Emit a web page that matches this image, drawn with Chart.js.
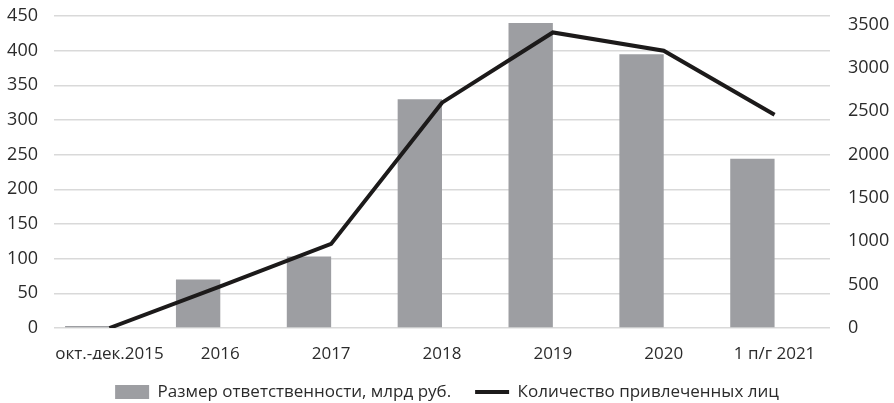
<!DOCTYPE html>
<html>
<head>
<meta charset="utf-8">
<script src="https://cdn.jsdelivr.net/npm/chart.js@4"></script>
<style>
  html, body { margin: 0; padding: 0; background: #fff; }
  #wrap { width: 894px; height: 403px; }
</style>
</head>
<body>
<div id="wrap"><canvas id="chart" width="894" height="403"></canvas></div>
<script>
// ---------- Data ----------
const categories = ["окт.-дек.2015", "2016", "2017", "2018", "2019", "2020", "1 п/г 2021"];
const liability = [3, 70, 103, 330, 440, 395, 244];      // млрд руб.
const persons = [0, 480, 970, 2600, 3410, 3200, 2460];   // человек
const leftTicks = [0, 50, 100, 150, 200, 250, 300, 350, 400, 450];
const rightTicks = [0, 500, 1000, 1500, 2000, 2500, 3000, 3500];

const barLabel = "Размер ответственности, млрд руб.";
const lineLabel = "Количество привлеченных лиц";

// ---------- Style ----------
const FONT = "'Open Sans', 'Noto Sans', sans-serif";
const TEXT = "#2b2b2b";
const GRID = "#d9d9d9";
const BAR = "#9d9ea2";
const LINE = "#1c1a1a";

Chart.defaults.font.family = FONT;
Chart.defaults.font.size = 17;
Chart.defaults.color = TEXT;

new Chart(document.getElementById("chart"), {
  data: {
    labels: categories,
    datasets: [
      {
        type: "line",
        label: lineLabel,
        data: persons,
        yAxisID: "y1",
        borderColor: LINE,
        backgroundColor: LINE,
        borderWidth: 4,
        pointRadius: 0,
        tension: 0,
        order: 0,
      },
      {
        type: "bar",
        label: barLabel,
        data: liability,
        yAxisID: "y",
        backgroundColor: BAR,
        borderWidth: 0,
        categoryPercentage: 0.8,
        barPercentage: 1,
        order: 1,
      },
      {
        // empty slot so the bars sit to the left of each category
        type: "bar",
        label: "",
        data: categories.map(() => null),
        yAxisID: "y",
        categoryPercentage: 0.8,
        barPercentage: 1,
        order: 2,
      },
    ],
  },
  options: {
    responsive: false,
    animation: false,
    layout: { padding: { top: 16, right: 0, left: 0, bottom: 0 } },
    plugins: {
      tooltip: { enabled: false },
      legend: {
        position: "bottom",
        reverse: true,
        maxHeight: 43.5,
        labels: {
          filter: (item) => item.text !== "",
          usePointStyle: true,
          pointStyleWidth: 34,
          boxHeight: 14,
          padding: 24,
          color: TEXT,
          font: { size: 17 },
          generateLabels: (chart) => {
            const items = Chart.defaults.plugins.legend.labels.generateLabels(chart);
            items.forEach((it) => {
              const ds = chart.data.datasets[it.datasetIndex];
              if (ds.type === "line") {
                it.pointStyle = "line";
                it.lineWidth = 4;
                it.strokeStyle = LINE;
              } else {
                it.pointStyle = "rect";
                it.lineWidth = 0;
              }
            });
            return items;
          },
        },
      },
    },
    scales: {
      x: {
        grid: { display: false, drawTicks: false },
        border: { display: false },
        afterFit: (axis) => { axis.height = 31.5; },
        ticks: { padding: 16, maxRotation: 0, autoSkip: false, font: { size: 17 } },
      },
      y: {
        position: "left",
        min: 0,
        max: 450,
        afterBuildTicks: (axis) => { axis.ticks = leftTicks.map((v) => ({ value: v })); },
        afterFit: (axis) => { axis.width = 54; },
        grid: { color: GRID, lineWidth: 1.5, tickLength: 16, tickColor: "transparent" },
        border: { display: false },
        ticks: { padding: 0, font: { size: 18 } },
      },
      y1: {
        position: "right",
        min: 0,
        max: 3600,
        afterBuildTicks: (axis) => { axis.ticks = rightTicks.map((v) => ({ value: v })); },
        afterFit: (axis) => { axis.width = 64; },
        grid: { drawOnChartArea: false, tickLength: 18, tickColor: "transparent" },
        border: { display: false },
        ticks: { padding: 0, font: { size: 18 }, callback: (v) => String(v) },
      },
    },
  },
});
</script>
</body>
</html>
